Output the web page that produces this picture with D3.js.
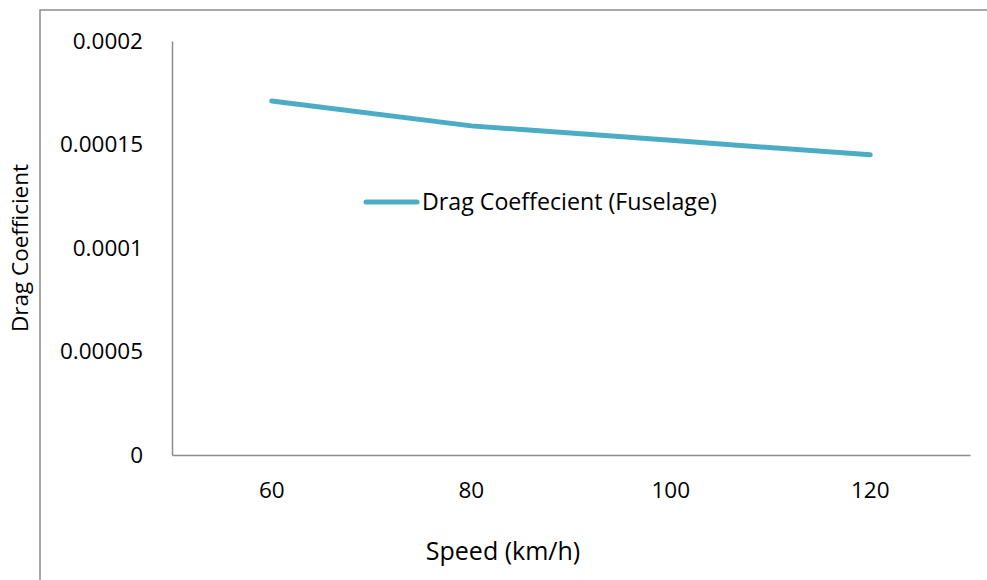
<!DOCTYPE html>
<html>
<head>
<meta charset="utf-8">
<script src="https://cdn.jsdelivr.net/npm/d3@7"></script>
<style>
  html, body { margin: 0; padding: 0; background: #ffffff; }
  svg { display: block; }
  svg text { font-family: "Open Sans", "Liberation Sans", sans-serif; }
</style>
</head>
<body>
<svg id="chart" width="987" height="580"></svg>
<script>
// Speed categories (km/h) and the fuselage drag coefficient at each
const speeds = ["60", "80", "100", "120"];
const dragCoefficient = [0.000171, 0.000159, 0.000152, 0.000145];
const yTicks = [0, 0.00005, 0.0001, 0.00015, 0.0002];
const yTickLabels = ["0", "0.00005", "0.0001", "0.00015", "0.0002"];
const seriesName = "Drag Coeffecient (Fuselage)";
const xTitle = "Speed (km/h)";
const yTitle = "Drag Coefficient";

const svg = d3.select("#chart");
const W = 987, H = 580;
const plot = { left: 172, right: 970, top: 41, bottom: 455 };
const axisColor = "#8c8c8c";
const lineColor = "#4bacc6";
const fontSize = 22.5;

// outer chart frame (runs past the window on the right and bottom)
svg.append("rect")
  .attr("x", 40).attr("y", 10)
  .attr("width", W).attr("height", H)
  .attr("fill", "none").attr("stroke", axisColor).attr("stroke-width", 1.5);

const x = d3.scaleBand().domain(speeds).range([plot.left, plot.right]);
const y = d3.scaleLinear().domain([0, 0.0002]).range([plot.bottom, plot.top]);

// y axis
const yAxis = svg.append("g")
  .attr("transform", `translate(${plot.left},0)`)
  .call(d3.axisLeft(y).tickValues(yTicks)
    .tickFormat((d, i) => yTickLabels[i]).tickSize(0).tickPadding(29));
yAxis.attr("font-family", null).attr("font-size", fontSize);
yAxis.select(".domain").attr("stroke", axisColor).attr("stroke-width", 1.5);
yAxis.selectAll("text").attr("fill", "#000");

// x axis
const xAxis = svg.append("g")
  .attr("transform", `translate(0,${plot.bottom})`)
  .call(d3.axisBottom(x).tickSize(0).tickPadding(27));
xAxis.attr("font-family", null).attr("font-size", fontSize);
xAxis.select(".domain").attr("stroke", axisColor).attr("stroke-width", 1.5);
xAxis.selectAll("text").attr("fill", "#000");

// series line
const line = d3.line()
  .x((d, i) => x(speeds[i]) + x.bandwidth() / 2)
  .y(d => y(d));
svg.append("path")
  .datum(dragCoefficient)
  .attr("d", line)
  .attr("fill", "none")
  .attr("stroke", lineColor)
  .attr("stroke-width", 5)
  .attr("stroke-linecap", "round")
  .attr("stroke-linejoin", "round");

// legend
const legend = svg.append("g").attr("transform", "translate(366,202)");
legend.append("line")
  .attr("x1", 0).attr("x2", 51).attr("y1", 0).attr("y2", 0)
  .attr("stroke", lineColor).attr("stroke-width", 5).attr("stroke-linecap", "round");
legend.append("text")
  .attr("x", 56).attr("y", 0).attr("dy", "0.35em")
  .attr("font-size", 23.2).attr("fill", "#000")
  .text(seriesName);

// axis titles
svg.append("text")
  .attr("x", 503).attr("y", 551).attr("dy", "0.35em")
  .attr("text-anchor", "middle").attr("font-size", 25).attr("fill", "#000")
  .text(xTitle);
svg.append("text")
  .attr("transform", "translate(20,248) rotate(-90)")
  .attr("dy", "0.35em")
  .attr("text-anchor", "middle").attr("font-size", fontSize).attr("fill", "#000")
  .text(yTitle);
</script>
</body>
</html>
